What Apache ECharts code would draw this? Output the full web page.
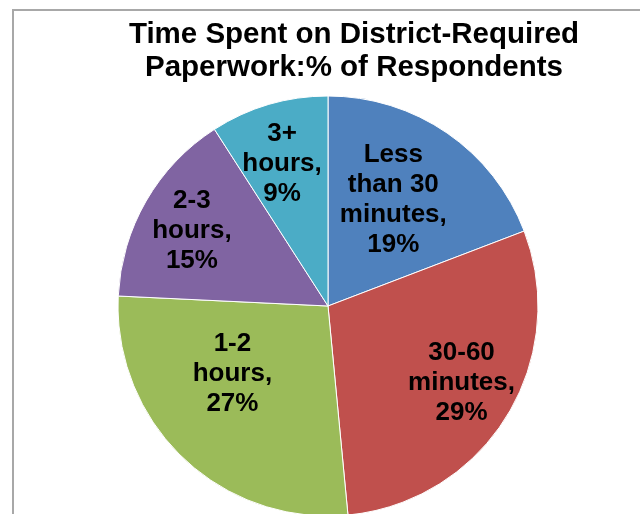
<!DOCTYPE html>
<html>
<head>
<meta charset="utf-8">
<script src="https://cdn.jsdelivr.net/npm/echarts@6/dist/echarts.min.js"></script>
<style>
html,body{margin:0;padding:0;background:#fff;}
#chart{width:640px;height:514px;}
</style>
</head>
<body>
<div id="chart"></div>
<script>
const titleText = 'Time Spent on District-Required\nPaperwork:% of Respondents';
const categories = ['Less than 30 minutes', '30-60 minutes', '1-2 hours', '2-3 hours', '3+ hours'];
const labelTexts = ['Less\nthan 30\nminutes,', '30-60\nminutes,', '1-2\nhours,', '2-3\nhours,', '3+\nhours,'];
const values = [19, 29, 27, 15, 9];
const colors = ['#4F81BD', '#C0504D', '#9BBB59', '#8064A2', '#4BACC6'];

// label placement styling (not data)
const innerRing = [true, false, true, false, false];
const labelNudge = [[-5, -4], [1, -5], [-10, -22], [-1, 3], [-2, 8]];

const chart = echarts.init(document.getElementById('chart'));
const CENTER = [328, 306];
const R = 210;
const FONT = '"Liberation Sans", Arial, sans-serif';

const baseData = categories.map((c, i) => ({ name: c, value: values[i], itemStyle: { color: colors[i] } }));

function labelSeries(ringFlag, radius) {
  return {
    type: 'pie',
    center: CENTER,
    radius: radius,
    startAngle: 90,
    clockwise: true,
    silent: true,
    animation: false,
    avoidLabelOverlap: false,
    itemStyle: { color: 'rgba(0,0,0,0)', borderWidth: 0 },
    labelLine: { show: false },
    data: categories.map((c, i) => ({
      name: c, value: values[i],
      label: { show: innerRing[i] === ringFlag }
    })),
    label: {
      position: 'inside',
      formatter: function (p) { return labelTexts[p.dataIndex] + '\n' + p.value + '%'; },
      color: '#000',
      fontFamily: FONT,
      fontWeight: 'bold',
      fontSize: 26,
      lineHeight: 30,
      align: 'center'
    },
    labelLayout: function (p) {
      const n = labelNudge[p.dataIndex];
      return { dx: n[0], dy: n[1] };
    },
    z: 5
  };
}

chart.setOption({
  backgroundColor: '#fff',
  animation: false,
  title: {
    text: titleText,
    left: 349,
    top: 13,
    textAlign: 'center',
    textStyle: { fontFamily: FONT, fontWeight: 'bold', fontSize: 29.5, lineHeight: 33, color: '#000' }
  },
  graphic: [{
    type: 'rect',
    shape: { x: 13, y: 10, width: 800, height: 700 },
    style: { fill: 'none', stroke: '#a8a8a8', lineWidth: 2 },
    silent: true,
    z: -1
  }],
  series: [
    {
      type: 'pie',
      center: CENTER,
      radius: [0, R],
      startAngle: 90,
      clockwise: true,
      animation: false,
      label: { show: false },
      labelLine: { show: false },
      itemStyle: { borderColor: '#ffffff', borderWidth: 1 },
      data: baseData
    },
    labelSeries(true, [32, R]),
    labelSeries(false, [96, R])
  ]
});
</script>
</body>
</html>
